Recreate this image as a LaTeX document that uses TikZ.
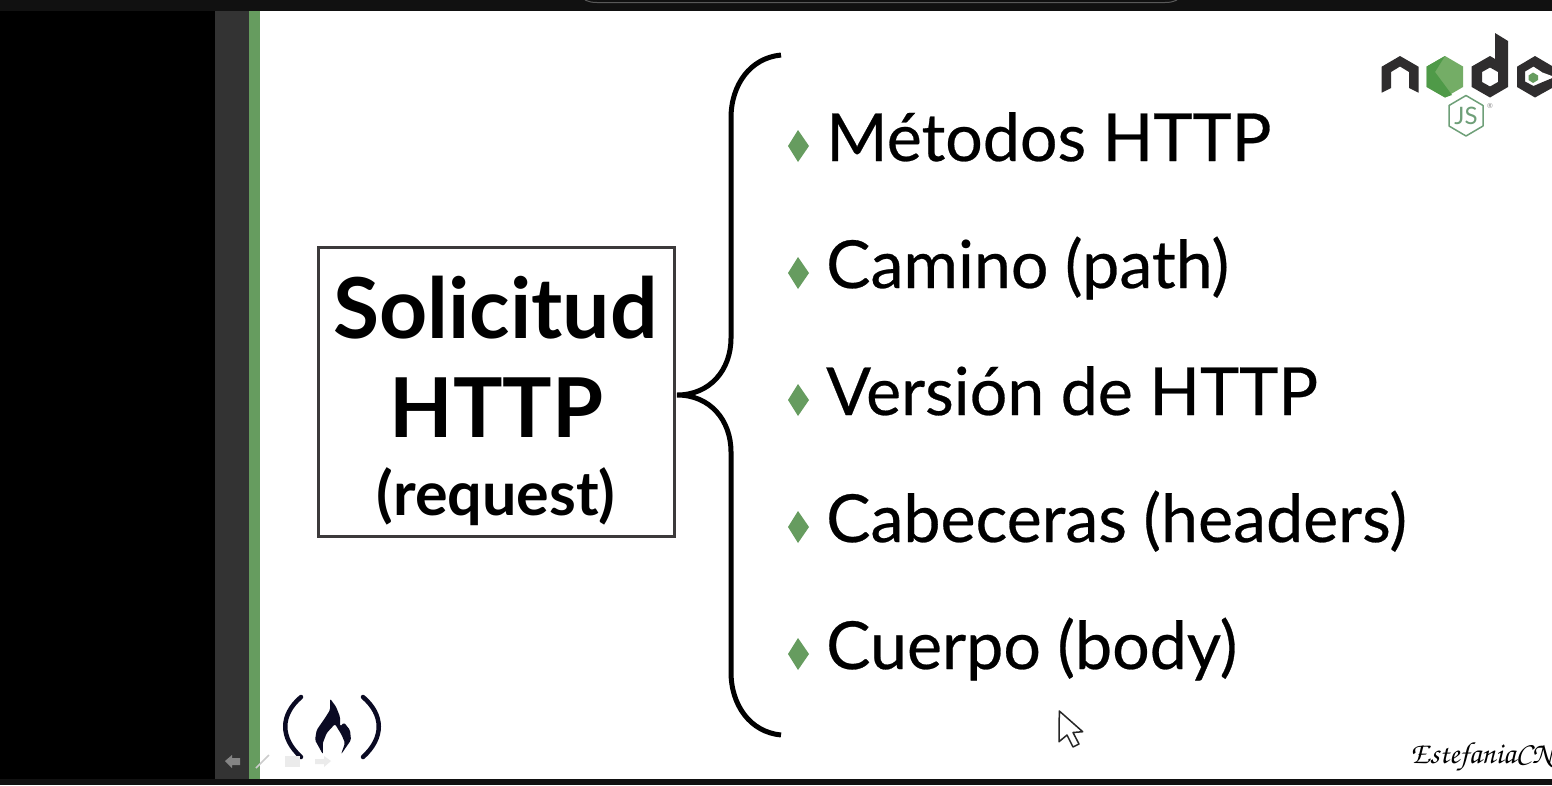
\documentclass[tikz,border=0pt]{standalone}
\usepackage{fontspec}
\setmainfont{Lato}
\newfontfamily\itemfont{Lato}[FakeBold=0.4]
\newcommand{\tightwords}{\spaceskip=16.5pt\relax}
\definecolor{slidegreen}{HTML}{669C5F}
\definecolor{panelgray}{HTML}{333333}
\definecolor{barblack}{HTML}{111111}
\definecolor{inkdark}{HTML}{2F2D2E}
\definecolor{boxline}{HTML}{3C3A3B}
\definecolor{fcc}{HTML}{0A0A23}
\definecolor{jsgreen}{HTML}{6E9F78}
\definecolor{hexdark}{HTML}{4F9A48}
\definecolor{hexlight}{HTML}{74AD66}
\tikzset{
  item/.style={anchor=base west,inner sep=0pt,font=\itemfont\fontsize{66.3}{66}\selectfont,text=black},
  bulletmark/.style={fill=slidegreen,draw=none},
}
\begin{document}
\begin{tikzpicture}[x=1pt,y=-1pt]
\useasboundingbox (0,0) rectangle (1552,785);
\fill[white] (0,0) rectangle (1552,785);
\fill[black] (0,0) rectangle (215,785);
\fill[panelgray] (215,11) rectangle (249,779);
\fill[slidegreen] (249,11) rectangle (260,779);
\fill[barblack] (0,0) rectangle (1552,11);
\fill[barblack] (0,779) rectangle (1552,785);
\draw[line width=1pt,black!65] (585,0) .. controls (590,2) and (592,2.5) .. (597,2.5) -- (1165,2.5) .. controls (1170,2.5) and (1172,2) .. (1177,0);
% box
\node[draw=boxline,line width=3.4pt,minimum width=356pt,minimum height=289pt,inner sep=0pt,anchor=north west] (box) at (316.6,245.6) {};
\node[anchor=base,inner sep=0pt,font=\bfseries\fontsize{84}{84}\selectfont] (t1) at (495.5,338) {Solicitud};
\node[anchor=base,inner sep=0pt,font=\bfseries\fontsize{82.6}{82}\selectfont] (t2) at (496.5,437) {HTTP};
\node[anchor=base,inner sep=0pt,font=\bfseries\fontsize{61}{61}\selectfont] (t3) at (496,515) {(request)};
% brace
\draw[line width=5pt,black] (781,55) .. controls (750,58) and (731,85) .. (731,118) -- (731,338)
  .. controls (731,370) and (710,395) .. (677,395)
  .. controls (710,395) and (731,420) .. (731,452) -- (731,672)
  .. controls (731,705) and (750,732) .. (781,735);
% items
\foreach \yy/\nm/\tx in {146/a/{Métodos HTTP},273/b/{Camino (path)},400/c/{Versión de HTTP},527/d/{Cabeceras (headers)},654/e/{Cuerpo (body)}}{
  \fill[bulletmark] (798,\yy-16) -- (809,\yy) -- (798,\yy+16) -- (788,\yy) -- cycle;
  \node[item] (\nm) at (826,\yy+15) {\tightwords\tx};
}
% node logo
\fill[inkdark] (1381.7,66.7) -- (1400,56) -- (1418.5,66.7) -- (1418.5,92.7) -- (1409,88) -- (1409,72) -- (1400,66.5) -- (1391,72) -- (1391,88) -- (1381.7,92.7) -- cycle;
\fill[hexlight] (1445,56) -- (1463,66.5) -- (1463,87) -- (1445,97.5) -- (1426.7,87) -- (1426.7,66.5) -- cycle;
\fill[hexdark] (1445,56) -- (1426.7,66.5) -- (1426.7,87) -- (1445,97.5) -- (1452,95) -- (1435,72) -- cycle;
\fill[inkdark,even odd rule] (1495,33) -- (1508,41) -- (1508,87) -- (1490,97.5) -- (1471.7,87) -- (1471.7,66.5) -- (1490,56) -- (1495,59) -- cycle
  (1490,67.5) -- (1498,72) -- (1498,82) -- (1490,86.5) -- (1482,82) -- (1482,72) -- cycle;
\fill[inkdark] (1517,66.7) -- (1535,56) -- (1552,66) -- (1552,76) -- (1542,79) -- (1542,72) -- (1533.5,66.5) -- (1525,71.5) -- (1525,81.5) -- (1533.5,86) -- (1552,78) -- (1552,88) -- (1535,97.5) -- (1517,87) -- cycle;
\fill[white] (1541,72) -- (1552,76) -- (1552,78) -- (1541,82) -- cycle;
\fill[slidegreen] (1533,72.5) -- (1538,75.5) -- (1538,80) -- (1533,83) -- (1528.5,80) -- (1528.5,75.5) -- cycle;
\draw[jsgreen,line width=1.5pt,line join=round] (1466,95.5) -- (1483,105.5) -- (1483,126) -- (1466,136) -- (1449,126) -- (1449,105.5) -- cycle;
\node[inner sep=0pt,text=jsgreen,font=\fontsize{24}{24}\selectfont] (js) at (1466,116) {JS};
\node[inner sep=0pt,text=black!45,font=\fontsize{7}{7}\selectfont] (reg) at (1490,106) {®};
% freeCodeCamp logo
\draw[fcc,line width=4.5pt,line cap=round] (301,697) .. controls (280,715) and (280,738) .. (301,757);
\draw[fcc,line width=4.5pt,line cap=round] (363,697) .. controls (384,715) and (384,738) .. (363,757);
\fill[fcc,rounded corners=1.5pt] (330,698.5) -- (336,706.7) -- (340,716.7) -- (340,726.5) -- (344,722.5) -- (350,730) -- (351,740) -- (341,754.5) -- (345,743) -- (341.7,735) -- (335,724) -- (326.7,733) -- (322.7,743.3) -- (323,754.5) -- (315,740) -- (316.7,730) -- (325,718) -- (330,710) -- cycle;
% slide controls
\fill[black!48] (225,761) -- (232,755) -- (232,758) -- (240,758) -- (240,765) -- (232,765) -- (232,768) -- cycle;
\draw[black!20,line width=1.6pt] (256,768) -- (269,755);
\fill[black!8] (285,756) rectangle (300,767);
\fill[black!8] (315,759) -- (324,759) -- (324,756) -- (331,761) -- (324,767) -- (324,764) -- (315,764) -- cycle;
% cursor
\draw[black!85,fill=white,line width=1.5pt,line join=round] (1059.3,711) -- (1082.7,731.7) -- (1073,732.5) -- (1079,744) -- (1073,747) -- (1067,735) -- (1059,741.7) -- cycle;
% signature
\node[anchor=base east,inner sep=0pt,font=\usefont{OT1}{pzc}{mb}{it}\fontsize{30.5}{30}\selectfont] (sig) at (1553,763) {EstefaniaCN};
\end{tikzpicture}
\end{document}
